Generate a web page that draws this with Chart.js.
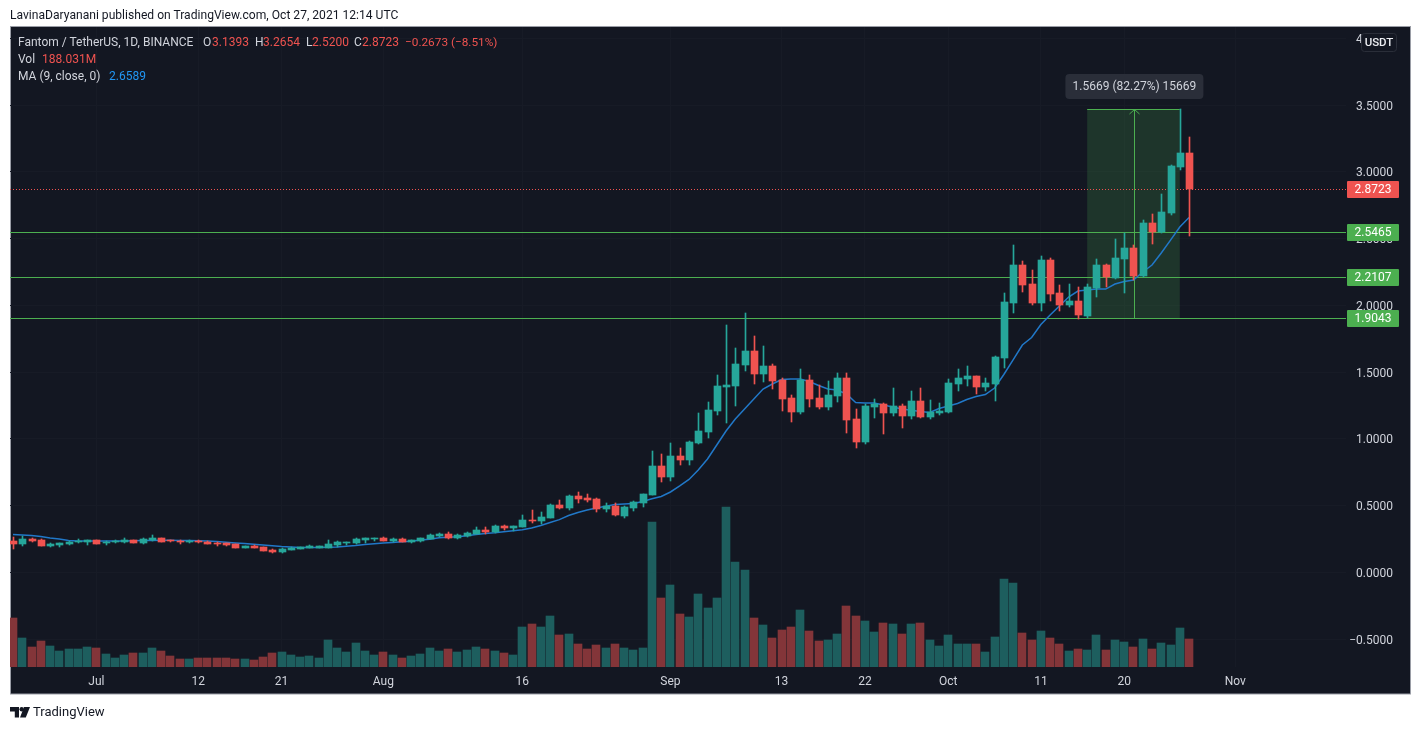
<!DOCTYPE html>
<html>
<head>
<meta charset="utf-8">
<title>Fantom / TetherUS</title>
<script src="https://cdn.jsdelivr.net/npm/chart.js@4/dist/chart.umd.min.js"></script>
<style>
html,body{margin:0;padding:0;background:#fff;width:1421px;height:730px;overflow:hidden}
#wrap{position:relative;width:1421px;height:730px;font-family:Roboto,"Noto Sans",sans-serif;font-size:12px}
canvas{position:absolute;left:0;top:0}
.t{position:absolute;white-space:nowrap;line-height:16px;color:#d1d4dc}
.r{color:#ef5350}
.b{color:#2196f3}
.k{color:#131722}
</style>
</head>
<body>
<div id="wrap">
<canvas id="c" width="1421" height="730"></canvas>
<div class="t k" style="left:10px;top:7px;font-size:12.1px">LavinaDaryanani published on TradingView.com, Oct 27, 2021 12:14 UTC</div>
<div class="t" style="left:18px;top:34px">Fantom / TetherUS, 1D, BINANCE</div>
<div class="t" style="left:203px;top:34px">O</div><div class="t r" style="left:212px;top:34px">3.1393</div>
<div class="t" style="left:255px;top:34px">H</div><div class="t r" style="left:263px;top:34px">3.2654</div>
<div class="t" style="left:306px;top:34px">L</div><div class="t r" style="left:312px;top:34px">2.5200</div>
<div class="t" style="left:354px;top:34px">C</div><div class="t r" style="left:362px;top:34px">2.8723</div>
<div class="t r" style="left:405px;top:34px;font-size:11.8px">−0.2673 (−8.51%)</div>
<div class="t" style="left:18px;top:51px">Vol</div><div class="t r" style="left:42px;top:51px">188.031M</div>
<div class="t" style="left:18px;top:68px">MA (9, close, 0)</div><div class="t b" style="left:109px;top:68px">2.6589</div>
<svg style="position:absolute;left:10px;top:707px" width="20" height="11" viewBox="0 0 20 11"><path fill="#131722" d="M0 0h9v10.5H4.8V4.4H0zM10 10.5 14 0h6l-4.2 10.5z"/><circle cx="11.7" cy="2.3" r="2.2" fill="#131722"/></svg>
<div class="t k" style="left:33px;top:704px;font-size:13px">TradingView</div>
</div>
<script>
const tickIndexes = [9,20,29,40,55,71,83,92,101,111,120,132];
const tickLabels = ['Jul','12','21','Aug','16','Sep','13','22','Oct','11','20','Nov'];
const priceTicks = [4,3.5,3,2.5,2,1.5,1,0.5,0,-0.5];

const opens = [
.236,.213,.251,.243,.201,.206,.216,.226,.231,.243,
.219,.226,.231,.243,.223,.241,.258,.241,.238,.226,
.236,.231,.221,.221,.213,.186,.198,.191,.169,.154,
.169,.176,.184,.184,.184,.206,.221,.221,.243,.251,
.258,.236,.251,.228,.236,.251,.273,.288,.258,.273,
.288,.318,.303,.348,.333,.341,.393,.386,.408,.506,
.483,.573,.558,.551,.476,.498,.423,.483,.521,.58,
.798,.715,.873,.843,.97,1.052,1.21,1.389,1.397,1.554,
1.659,1.487,1.547,1.442,1.307,1.202,1.442,1.307,1.24,1.322,
1.457,1.15,.977,1.24,1.262,1.195,1.247,1.172,1.285,1.165,
1.195,1.202,1.412,1.449,1.472,1.389,1.412,1.607,2.019,2.303,
2.161,2.019,2.341,2.094,2.004,2.034,1.921,2.131,2.303,2.206,
2.348,2.43,2.221,2.618,2.55,2.693,3.037,3.1393];
const closes = [
.213,.251,.238,.198,.213,.219,.228,.236,.243,.216,
.228,.236,.243,.223,.251,.258,.231,.234,.226,.238,
.226,.216,.213,.206,.184,.198,.184,.161,.156,.176,
.184,.189,.198,.198,.213,.228,.226,.251,.258,.258,
.236,.251,.228,.243,.258,.281,.288,.258,.281,.296,
.318,.303,.348,.333,.348,.393,.386,.416,.506,.483,
.573,.551,.543,.476,.498,.431,.491,.528,.588,.798,
.715,.873,.843,.977,1.06,1.217,1.397,1.404,1.562,1.659,
1.487,1.547,1.434,1.3,1.202,1.442,1.3,1.24,1.329,1.457,
1.142,.977,1.247,1.262,1.195,1.247,1.172,1.285,1.165,1.202,
1.21,1.419,1.457,1.472,1.389,1.419,1.614,2.026,2.303,2.153,
2.019,2.341,2.086,2.004,2.034,1.929,2.138,2.303,2.213,2.356,
2.43,2.221,2.618,2.55,2.7,3.045,3.1393,2.8723];
const highs = [
.268,.276,.258,.251,.221,.219,.236,.251,.243,.245,
.236,.243,.258,.246,.258,.281,.26,.246,.246,.241,
.246,.236,.231,.221,.215,.2,.206,.192,.176,.184,
.191,.19,.206,.2,.243,.236,.226,.258,.258,.258,
.266,.258,.258,.243,.258,.288,.296,.303,.288,.303,
.341,.341,.356,.356,.348,.431,.468,.453,.513,.543,
.58,.603,.588,.558,.521,.521,.498,.536,.588,.91,
.888,.97,.933,.985,1.195,1.277,1.479,1.854,1.681,1.944,
1.771,1.696,1.562,1.457,1.329,1.524,1.479,1.404,1.434,1.494,
1.494,1.225,1.262,1.3,1.27,1.382,1.262,1.359,1.382,1.292,
1.27,1.449,1.524,1.547,1.475,1.457,1.622,2.094,2.453,2.333,
2.266,2.371,2.356,2.153,2.161,2.138,2.161,2.348,2.311,2.498,
2.543,2.453,2.64,2.685,2.835,3.052,3.4712,3.2654];
const lows = [
.176,.201,.231,.198,.191,.191,.208,.223,.208,.214,
.208,.223,.223,.221,.217,.236,.229,.226,.216,.219,
.219,.213,.201,.198,.184,.185,.184,.16,.146,.146,
.169,.175,.184,.183,.184,.191,.206,.213,.219,.236,
.236,.228,.228,.221,.228,.251,.266,.251,.251,.268,
.288,.288,.296,.318,.311,.341,.371,.363,.408,.476,
.468,.521,.528,.453,.453,.423,.408,.461,.491,.58,
.678,.685,.805,.805,.962,1.007,1.18,1.12,1.247,1.509,
1.412,1.427,1.374,1.21,1.127,1.187,1.24,1.225,1.217,1.277,
1.045,.933,.962,1.157,1.037,1.172,1.082,1.15,1.157,1.15,
1.18,1.195,1.359,1.397,1.337,1.359,1.285,1.532,1.944,2.101,
2.004,1.959,2.034,1.959,1.989,1.899,1.906,2.063,2.138,2.198,
2.094,2.191,2.213,2.46,2.543,2.678,3.015,2.52];
const volumes = [
329,195,134,175,141,107,121,121,134,128,
87,60,81,94,94,128,107,74,54,54,
60,60,60,60,54,54,47,67,94,101,
81,67,74,60,181,128,101,161,107,81,
101,81,60,74,87,128,107,121,101,114,
134,121,107,94,81,269,289,269,342,215,
222,154,121,148,128,154,128,114,128,974,
463,551,356,336,490,396,463,1074,705,651,
329,282,195,248,269,383,242,175,181,222,
410,342,309,235,295,289,222,289,295,181,
141,215,154,154,154,101,201,591,564,228,
181,242,195,154,107,121,114,215,114,181,
168,134,188,121,161,148,262,188.03];
const movingAverage = [
.285,.281,.277,.27,.258,.251,.24,.236,.236,.236,
.236,.236,.236,.238,.24,.24,.241,.241,.24,.24,
.238,.236,.232,.226,.221,.217,.211,.206,.201,.195,
.191,.188,.187,.187,.189,.191,.196,.202,.21,.216,
.221,.225,.23,.234,.243,.249,.26,.264,.267,.276,
.284,.292,.298,.306,.313,.321,.333,.352,.375,.396,
.427,.45,.468,.483,.496,.509,.513,.517,.532,.553,
.569,.603,.648,.697,.768,.85,.955,1.06,1.15,1.225,
1.3,1.374,1.412,1.446,1.449,1.449,1.431,1.401,1.374,1.367,
1.337,1.273,1.27,1.27,1.255,1.24,1.225,1.215,1.206,1.198,
1.228,1.247,1.266,1.296,1.318,1.333,1.382,1.483,1.592,1.704,
1.76,1.858,1.929,1.996,2.063,2.108,2.116,2.123,2.123,2.161,
2.18,2.191,2.251,2.303,2.393,2.49,2.588,2.6589];

const levels = [2.5465,2.2107,1.9043];
const lastClose = 2.8723;
const measureFromIndex = 116, measureToIndex = 126, measureArrowIndex = 121.1;
const measureLow = 1.9043, measureHigh = 3.4712;
const measureText = '1.5669 (82.27%) 15669';

const UP='#26a69a', DOWN='#ef5350', VUP='#1d5e5e', VDOWN='#833539', GREEN='#4caf50', GRID='#171b26', TEXT='#d1d4dc';
const FONT='Roboto,"Noto Sans",sans-serif';
const idx = opens.map((_,i)=>i);
const isUp = i => closes[i] >= opens[i];

const priceMin=-0.7079, priceMax=4.0861, labelShift=0.0112;

const drawings = {
  id:'drawings',
  afterDatasetsUpdate(chart){
    // pixel-snap the bars, as the original renderer does
    chart.data.datasets.forEach((ds,n)=>{
      if(ds.type==='line') return;
      const odd=ds.barThickness%2===1;
      chart.getDatasetMeta(n).data.forEach(el=>{
        el.x=Math.round(el.x)+(odd?.5:0);
        el.y=Math.round(el.y);
        el.base=Math.round(el.base);
        if(el.y===el.base) el.base=el.y+1;
      });
    });
  },
  beforeDraw(chart){
    const c=chart.ctx;
    c.save();
    c.fillStyle='#131722'; c.fillRect(10,27,1400,667);
    c.strokeStyle='#9a9da6'; c.lineWidth=1; c.strokeRect(10.5,26.5,1400,667.5);
    c.restore();
  },
  beforeDatasetsDraw(chart){
    const {x,y}=chart.scales, a=chart.chartArea, c=chart.ctx;
    c.save();
    c.beginPath(); c.rect(a.left,a.top,a.right-a.left,a.bottom-a.top); c.clip();
    const x0=x.getPixelForValue(measureFromIndex), x1=x.getPixelForValue(measureToIndex);
    const yh=Math.floor(y.getPixelForValue(measureHigh))+.5, yl=y.getPixelForValue(measureLow);
    c.fillStyle='rgba(76,175,80,0.2)'; c.fillRect(x0,yh,x1-x0,yl-yh);
    c.strokeStyle=GREEN; c.lineWidth=1;
    c.beginPath(); c.moveTo(x0,yh); c.lineTo(x1,yh); c.stroke();
    const xa=Math.round(x.getPixelForValue(measureArrowIndex))+.5;
    c.beginPath(); c.moveTo(xa,yl); c.lineTo(xa,yh); c.stroke();
    c.beginPath(); c.moveTo(xa-5,yh+4.5); c.lineTo(xa,yh); c.lineTo(xa+5,yh+4.5); c.stroke();
    for(const v of levels){
      const p=Math.floor(y.getPixelForValue(v))+.5;
      c.beginPath(); c.moveTo(a.left,p); c.lineTo(a.right,p); c.stroke();
    }
    const p=Math.floor(y.getPixelForValue(lastClose))+.5;
    c.strokeStyle=DOWN; c.setLineDash([1,2]);
    c.beginPath(); c.moveTo(a.left,p); c.lineTo(a.right,p); c.stroke();
    c.restore();
  },
  afterDraw(chart){
    const {x,y}=chart.scales, a=chart.chartArea, c=chart.ctx;
    c.save();
    c.font='12px '+FONT; c.textAlign='center'; c.textBaseline='middle';
    const tag=(v,col)=>{
      const p=Math.floor(y.getPixelForValue(v));
      c.fillStyle=col; c.beginPath(); c.roundRect(a.right+1,p-8,52,17,1); c.fill();
      c.fillStyle='#fff'; c.fillText(v.toFixed(4),a.right+27,p+1);
    };
    tag(lastClose,DOWN);
    for(const v of levels) tag(v,GREEN);
    c.fillStyle='#131722'; c.strokeStyle='#2a2e39'; c.lineWidth=1;
    c.beginPath(); c.roundRect(1361.5,33.5,35,18,3); c.fill(); c.stroke();
    c.fillStyle='#eceef2'; c.font='500 11.5px '+FONT; c.fillText('USDT',1379,43);
    const xm=x.getPixelForValue(measureArrowIndex);
    const ym=y.getPixelForValue(measureHigh);
    c.fillStyle='#2a2e39'; c.beginPath(); c.roundRect(xm-69,ym-35,138,25,4); c.fill();
    c.fillStyle=TEXT; c.font='12px '+FONT; c.fillText(measureText,xm,ym-22);
    c.restore();
  }
};

new Chart(document.getElementById('c'),{
  type:'bar',
  plugins:[drawings],
  data:{datasets:[
    {label:'Vol',yAxisID:'v',order:4,barThickness:8,grouped:false,
     data:idx.map(i=>({x:i,y:volumes[i]})),
     backgroundColor:idx.map(i=>isUp(i)?VUP:VDOWN)},
    {type:'line',label:'MA (9, close, 0)',yAxisID:'y',order:3,pointRadius:0,borderWidth:1.5,
     borderColor:'#2178c8',tension:0,data:idx.map(i=>({x:i,y:movingAverage[i]}))},
    {label:'Wick',yAxisID:'y',order:2,barThickness:1,grouped:false,
     data:idx.map(i=>({x:i,y:[lows[i],highs[i]]})),
     backgroundColor:idx.map(i=>isUp(i)?UP:DOWN)},
    {label:'Fantom / TetherUS',yAxisID:'y',order:1,barThickness:7,grouped:false,minBarLength:1,
     data:idx.map(i=>({x:i,y:[opens[i],closes[i]]})),
     backgroundColor:idx.map(i=>isUp(i)?UP:DOWN)}
  ]},
  options:{
    responsive:false,animation:false,events:[],
    layout:{padding:{left:10,top:27,right:28,bottom:36}},
    plugins:{legend:{display:false},tooltip:{enabled:false},title:{display:false}},
    scales:{
      x:{type:'linear',offset:false,min:-0.324,max:143.95,
        grid:{color:GRID,offset:false,drawTicks:false},border:{display:false},
        afterBuildTicks(s){s.ticks=tickIndexes.map(value=>({value}));},
        afterFit(s){s.height=27;},
        ticks:{color:TEXT,font:{family:FONT,size:12},padding:8,autoSkip:false,maxRotation:0,
          callback:v=>tickLabels[tickIndexes.indexOf(v)]}},
      y:{type:'linear',position:'right',min:priceMin,max:priceMax,
        grid:{color:GRID,drawTicks:false},border:{display:false},
        afterBuildTicks(s){s.ticks=priceTicks.map(value=>({value}));},
        afterFit(s){s.width=0;},
        ticks:{display:false}},
      yLabels:{type:'linear',position:'right',min:priceMin+labelShift,max:priceMax+labelShift,
        grid:{display:false},border:{display:false},
        afterBuildTicks(s){s.ticks=priceTicks.map(value=>({value}));},
        afterFit(s){s.width=47;},
        ticks:{color:TEXT,font:{family:FONT,size:12},crossAlign:'far',padding:8,
          callback:v=>(v<0?'−':'')+Math.abs(v).toFixed(4)}},
      v:{type:'linear',display:false,min:0,max:4297.6}
    }
  }
});
</script>
</body>
</html>
